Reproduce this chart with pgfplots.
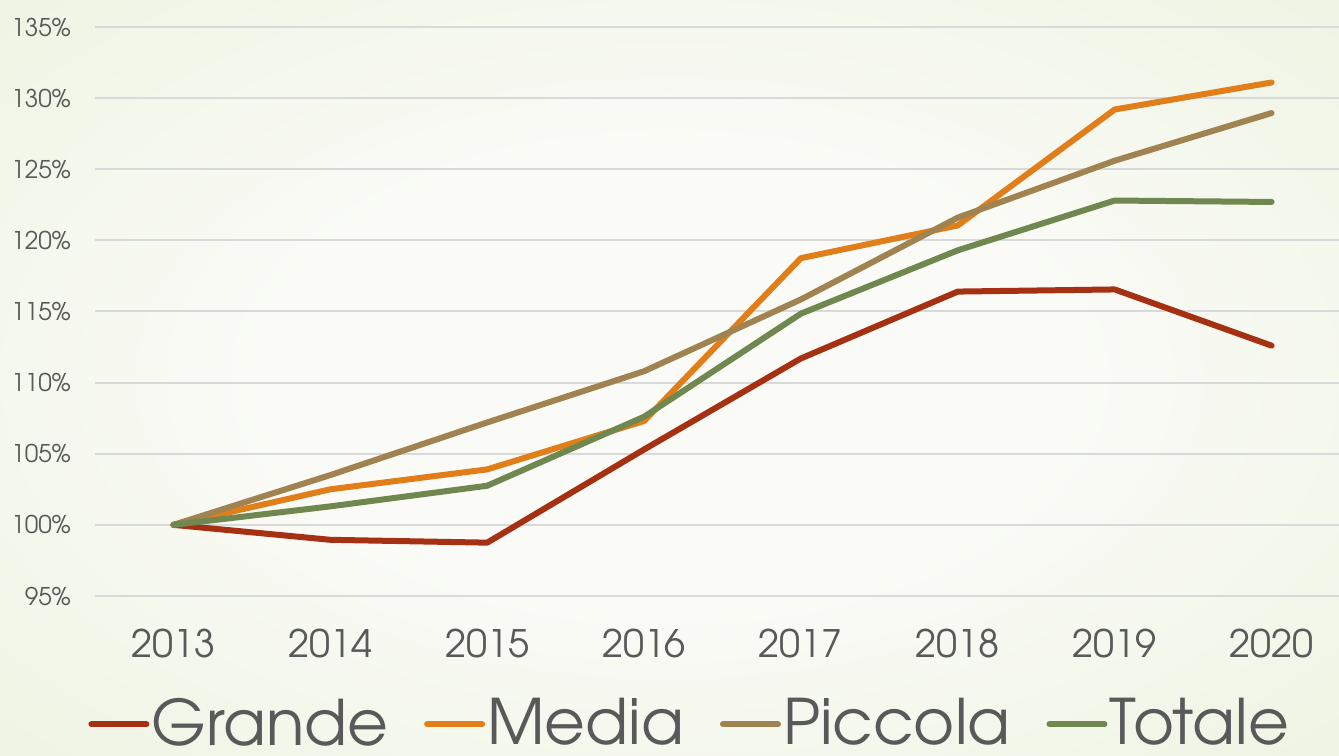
\documentclass[border=0pt]{standalone}
\usepackage{pgfplots}
\pgfplotsset{compat=1.18}
\usepackage{fontspec}
\setmainfont{TeX Gyre Adventor}

\definecolor{cGrande}{RGB}{165,48,18}
\definecolor{cMedia}{RGB}{226,126,26}
\definecolor{cPiccola}{RGB}{161,131,81}
\definecolor{cTotale}{RGB}{112,136,80}
\definecolor{textgray}{RGB}{89,89,89}
\definecolor{gridgray}{RGB}{217,217,217}
\definecolor{bgin}{RGB}{250,251,246}
\definecolor{bgout}{RGB}{219,231,194}

\pgfdeclareradialshading{bgshade}{\pgfpoint{0bp}{0bp}}{color(0bp)=(bgin); color(15bp)=(bgin); color(72bp)=(bgout)}

\begin{document}
\begin{tikzpicture}[x=1bp,y=1bp]
\shade[shading=bgshade] (0,0) rectangle (1339,755);
\begin{axis}[
    at={(95bp,159bp)}, anchor=south west,
    scale only axis, width=1244bp, height=569bp,
    xmin=2012.5, xmax=2020.43,
    ymin=95, ymax=135,
    xtick={2013,2014,...,2020},
    ytick={95,100,...,135},
    xticklabels={2013,2014,2015,2016,2017,2018,2019,2020},
    yticklabel={\pgfmathprintnumber{\tick}\%},
    /pgf/number format/assume math mode=true,
    axis line style={draw=none},
    major tick length=0pt,
    ymajorgrids=true,
    grid style={line width=2bp, color=gridgray},
    yticklabel style={font=\fontsize{24.5}{28}\selectfont, text=textgray, anchor=east, inner sep=0pt, xshift=-24bp},
    xticklabel style={font=\fontsize{38}{44}\selectfont, text=textgray, anchor=north, inner sep=0pt, yshift=-33bp},
    legend style={at={(0.478,-0.222)}, anchor=center, draw=none, fill=none,
        font=\fontsize{63}{70}\selectfont, text=textgray,
        /tikz/every even column/.append style={column sep=34bp},
        nodes={inner sep=2bp}},
    legend columns=4,
    legend image code/.code={\draw[#1, line width=6bp, line cap=round] (0bp,-2bp) -- (55bp,-2bp);},
    every axis plot/.append style={line width=6bp, line cap=round, line join=round, mark=none},
]
\addplot[cGrande] coordinates {
    (2013,100) (2014,98.95) (2015,98.75) (2016,105.3) (2017,111.7) (2018,116.4) (2019,116.55) (2020,112.6)
};
\addlegendentry{Grande}
\addplot[cMedia] coordinates {
    (2013,100) (2014,102.5) (2015,103.9) (2016,107.3) (2017,118.75) (2018,121.05) (2019,129.2) (2020,131.1)
};
\addlegendentry{Media}
\addplot[cPiccola] coordinates {
    (2013,100) (2014,103.5) (2015,107.2) (2016,110.8) (2017,115.85) (2018,121.6) (2019,125.6) (2020,128.95)
};
\addlegendentry{Piccola}
\addplot[cTotale] coordinates {
    (2013,100) (2014,101.3) (2015,102.75) (2016,107.6) (2017,114.85) (2018,119.3) (2019,122.8) (2020,122.7)
};
\addlegendentry{Totale}
\end{axis}
\pgfresetboundingbox
\useasboundingbox (0,0) rectangle (1339,755);
\end{tikzpicture}
\end{document}
